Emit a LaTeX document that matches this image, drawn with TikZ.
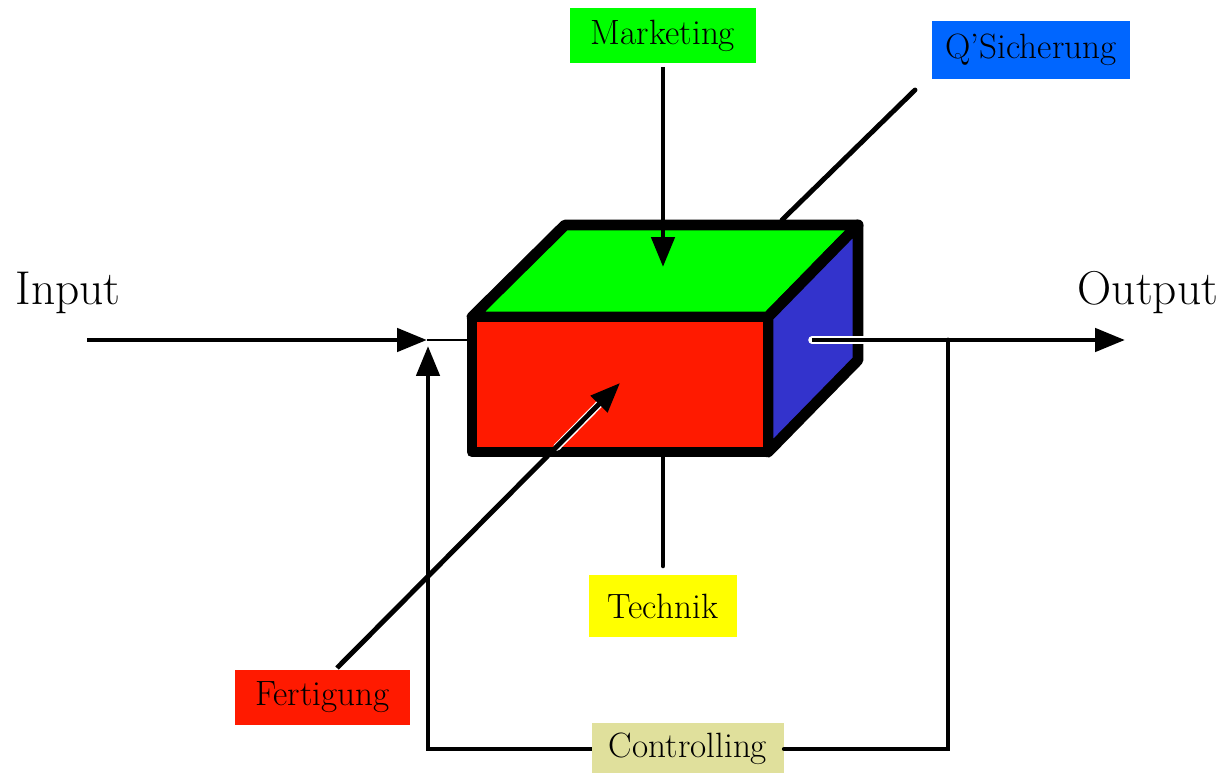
\documentclass[tikz,border=0pt]{standalone}
\usepackage{tikz}
\usetikzlibrary{arrows.meta}
\definecolor{topgreen}{RGB}{0,255,0}
\definecolor{frontred}{RGB}{255,26,0}
\definecolor{sideblue}{RGB}{51,51,204}
\definecolor{qsblue}{RGB}{0,102,255}
\definecolor{techyellow}{RGB}{255,255,0}
\definecolor{ctrlkhaki}{RGB}{224,224,156}
\tikzset{
  face/.style={line width=6.2pt,line join=round,line cap=round},
  flow/.style={line width=2.8pt,-{Triangle[length=17pt,width=13pt]}},
  wire/.style={line width=2.8pt,line cap=round},
  thinwire/.style={line width=1.7pt},
  halo/.style={line width=4.3pt,white,line cap=round},
  tagbox/.style={inner sep=0pt,font=\fontsize{20}{24}\selectfont},
  iotext/.style={font=\fontsize{27}{32}\selectfont}
}
\begin{document}
\begin{tikzpicture}[x=0.02cm,y=-0.02cm]
    \useasboundingbox (0,0) rectangle (1227,773);
    % corners of the box
    \coordinate (fl) at (472,317);
    \coordinate (fr) at (768,317);
    \coordinate (flb) at (472,452);
    \coordinate (frb) at (768,452);
    \coordinate (bl) at (565,225);
    \coordinate (br) at (858,225);
    \coordinate (brb) at (858,360);
    % ends of the lines
    \coordinate (instart) at (87,340);
    \coordinate (join) at (427,340);
    \coordinate (joinbelow) at (428,346);
    \coordinate (boxin) at (472,340);
    \coordinate (outstart) at (812,340);
    \coordinate (fork) at (948,340);
    \coordinate (outend) at (1125,340);
    \coordinate (topmid) at (663,267);
    \coordinate (frontmid) at (620,383);
    \coordinate (frontedge) at (552,452);
    \coordinate (bottommid) at (663,455);
    \coordinate (qsfoot) at (915,90);
    \coordinate (qstop) at (782,220);
    \coordinate (fertfoot) at (337,668);
    % labels
    \node[tagbox,fill=topgreen,minimum width=3.72cm,minimum height=1.1cm] (mkt) at (663,35.5) {Marketing};
    \node[tagbox,fill=qsblue,minimum width=3.96cm,minimum height=1.16cm] (qs) at (1031,50) {Q'Sicherung};
    \node[tagbox,fill=techyellow,minimum width=2.96cm,minimum height=1.24cm] (tech) at (663,606) {Technik};
    \node[tagbox,fill=frontred,minimum width=3.5cm,minimum height=1.1cm] (fert) at (322.5,697.5) {Fertigung};
    \node[tagbox,fill=ctrlkhaki,minimum width=3.84cm,minimum height=1.04cm] (ctrl) at (688,749) {Controlling};
    \node[iotext] (in) at (68,293) {Input};
    \node[iotext] (out) at (1148,293) {Output};
    % lines behind the box
    \draw[wire] (qsfoot) -- (qstop);
    \draw[thinwire] (join) -- (boxin);
    \draw[wire,shorten <=5pt] (tech.north) -- (bottommid);
    % the box
    \draw[face,fill=topgreen] (fl) -- (bl) -- (br) -- (fr) -- cycle;
    \draw[face,fill=sideblue] (fr) -- (br) -- (brb) -- (frb) -- cycle;
    \draw[face,fill=frontred] (fl) -- (fr) -- (frb) -- (flb) -- cycle;
    % flows
    \draw[flow] (instart) -- (join);
    \draw[flow,shorten <=2pt] (mkt.south) -- (topmid);
    \draw[halo,shorten <=4pt,shorten >=16pt] (frontedge) -- (frontmid);
    \draw[flow] (fertfoot) -- (frontmid);
    \draw[halo] (outstart) -- (fork);
    \draw[flow] (outstart) -- (outend);
    \draw[wire] (fork) |- (ctrl.east);
    \draw[flow] (ctrl.west) -| (joinbelow);
\end{tikzpicture}
\end{document}
